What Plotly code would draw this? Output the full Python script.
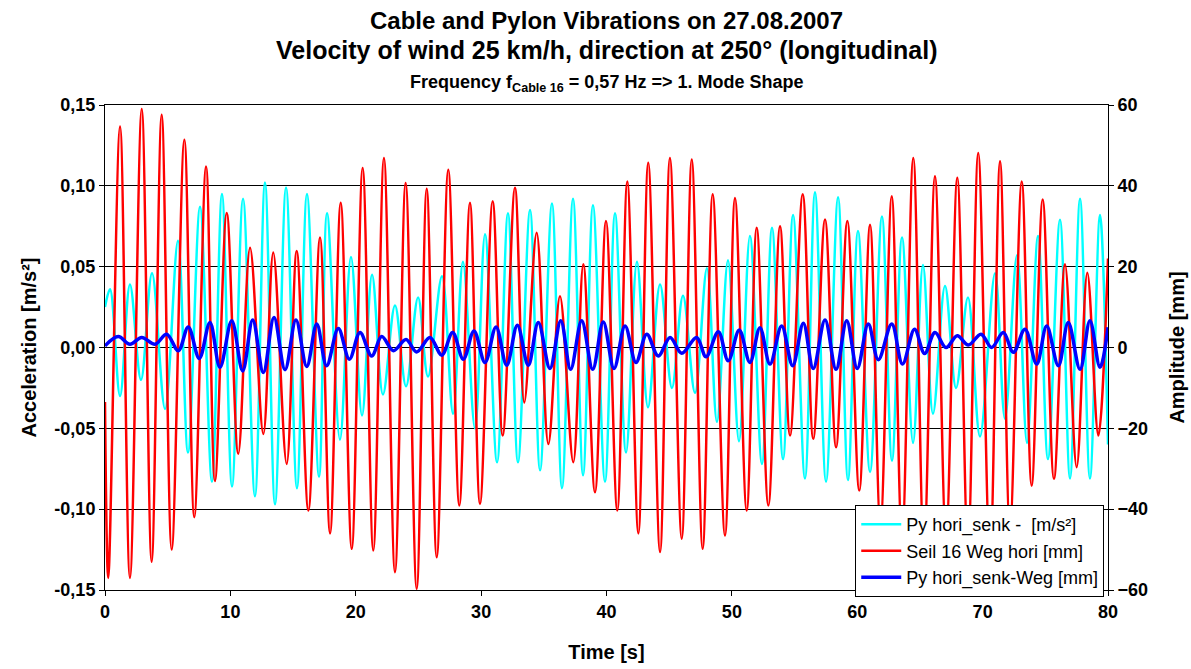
import plotly.graph_objects as go

# ---- data ----
# Py hori_senk - [m/s²]  (left axis): times of extrema [s] and values [m/s²]
cyan_t = [0.00, 0.40, 1.20, 1.99, 2.87, 3.75, 4.79, 5.82, 6.62, 7.58, 8.53, 9.33, 10.13, 11.01,
          11.96, 12.76, 13.56, 14.44, 15.31, 16.11, 17.07, 17.71, 18.74, 19.62, 20.50, 21.30,
          22.17, 23.13, 24.01, 24.97, 25.76, 26.88, 27.76, 28.55, 29.51, 30.31, 31.27, 32.14,
          32.94, 33.90, 34.70, 35.65, 36.45, 37.33, 38.13, 38.92, 39.88, 40.68, 41.56, 42.43,
          43.31, 44.27, 45.22, 46.10, 47.06, 48.01, 48.81, 49.69, 50.57, 51.44, 52.40, 53.20,
          54.08, 54.88, 55.83, 56.63, 57.51, 58.47, 59.26, 60.06, 61.02, 61.97, 62.77, 63.57,
          64.45, 65.24, 66.04, 67.00, 67.88, 68.83, 69.79, 70.99, 71.78, 72.74, 73.54, 74.42,
          75.21, 76.17, 76.97, 77.77, 78.56, 79.36, 80.00]
cyan_v = [0.025, 0.036, -0.030, 0.039, -0.020, 0.046, -0.038, 0.066, -0.065, 0.087, -0.083, 0.095,
          -0.086, 0.092, -0.092, 0.102, -0.097, 0.099, -0.087, 0.095, -0.080, 0.083, -0.057, 0.056,
          -0.042, 0.045, -0.029, 0.026, -0.024, 0.031, -0.018, 0.044, -0.041, 0.053, -0.050, 0.070,
          -0.071, 0.083, -0.071, 0.085, -0.076, 0.089, -0.087, 0.092, -0.079, 0.088, -0.083, 0.083,
          -0.065, 0.053, -0.037, 0.039, -0.025, 0.032, -0.028, 0.049, -0.046, 0.054, -0.058, 0.069,
          -0.072, 0.074, -0.069, 0.082, -0.081, 0.096, -0.083, 0.093, -0.082, 0.072, -0.077, 0.081,
          -0.070, 0.068, -0.059, 0.051, -0.041, 0.038, -0.025, 0.031, -0.055, 0.046, -0.044, 0.057,
          -0.059, 0.069, -0.069, 0.079, -0.081, 0.092, -0.081, 0.082, -0.060]

# Seil 16 Weg hori [mm]  (right axis)
red_t = [0.00, 0.26, 1.20, 1.99, 2.93, 3.72, 4.52, 5.32, 6.33, 7.12, 8.06, 8.77, 9.71, 10.63,
         11.57, 12.63, 13.42, 14.49, 15.29, 16.22, 17.15, 17.95, 18.80, 19.68, 20.55, 21.40,
         22.25, 23.13, 23.98, 24.86, 25.66, 26.46, 27.38, 28.26, 29.11, 29.91, 30.92, 31.72,
         32.70, 33.44, 34.43, 35.36, 36.29, 37.35, 38.15, 39.08, 39.96, 40.86, 41.66, 42.54,
         43.33, 44.27, 45.06, 46.00, 46.80, 47.67, 48.47, 49.45, 50.25, 51.18, 51.98, 52.91,
         53.84, 54.64, 55.65, 56.49, 57.43, 58.31, 59.21, 60.16, 61.02, 61.85, 62.75, 63.57,
         64.47, 65.32, 66.20, 67.08, 67.98, 68.83, 69.65, 70.59, 71.39, 72.18, 73.12, 73.91,
         74.79, 75.69, 76.57, 77.50, 78.35, 79.23, 80.00]
red_v = [-13.5, -57.0, 54.7, -57.0, 59.0, -53.0, 57.6, -50.0, 51.4, -42.0, 44.8, -33.0, 33.3, -26.3,
         24.7, -21.4, 23.5, -28.8, 23.9, -40.3, 27.2, -46.0, 35.8, -49.8, 44.4, -50.2, 46.9, -55.6,
         40.7, -59.7, 39.3, -51.9, 44.0, -39.1, 35.8, -38.7, 36.2, -21.8, 39.5, -13.6, 28.4, -23.9,
         12.7, -28.4, 20.6, -35.8, 31.3, -40.3, 41.1, -46.0, 45.7, -50.6, 46.9, -47.3, 46.5, -49.8,
         37.9, -46.5, 37.0, -40.3, 29.6, -39.1, 30.0, -21.8, 37.9, -22.6, 31.7, -24.7, 31.3, -35.4,
         30.4, -44.0, 37.4, -48.0, 46.9, -50.0, 42.4, -47.0, 42.0, -50.0, 48.1, -52.0, 46.1, -45.0,
         41.1, -34.2, 36.6, -32.5, 20.6, -29.6, 18.5, -21.8, 22.0]

# Py hori_senk-Weg [mm]  (right axis)
blue_t = [0.00, 1.06, 1.99, 2.93, 3.99, 4.92, 5.85, 6.64, 7.52, 8.37, 9.17, 10.11, 10.98, 11.78,
          12.63, 13.48, 14.36, 15.23, 16.09, 16.89, 17.68, 18.61, 19.49, 20.34, 21.27, 22.07,
          23.00, 24.01, 24.86, 25.92, 26.86, 27.73, 28.58, 29.43, 30.31, 31.19, 32.04, 32.89,
          33.76, 34.56, 35.49, 36.35, 37.14, 38.02, 38.90, 39.74, 40.60, 41.48, 42.35, 43.21,
          44.13, 45.07, 46.00, 47.19, 47.94, 48.92, 49.71, 50.59, 51.44, 52.24, 53.04, 53.97,
          54.85, 55.70, 56.49, 57.43, 58.31, 59.16, 60.00, 60.88, 61.68, 62.75, 63.61, 64.57,
          65.37, 66.20, 67.08, 67.98, 68.86, 69.87, 70.72, 71.65, 72.45, 73.38, 74.31, 75.11,
          76.04, 76.83, 77.77, 78.56, 79.36, 80.00]
blue_v = [0.4, 2.7, 0.8, 2.5, 0.8, 3.3, -0.8, 5.1, -2.7, 6.2, -4.9, 6.6, -5.8, 6.8,
          -6.2, 7.4, -5.5, 6.8, -4.7, 5.8, -4.5, 4.7, -2.9, 3.7, -2.1, 2.7,
          -0.8, 2.0, -1.1, 2.5, -1.9, 3.7, -2.9, 4.1, -3.7, 5.1, -4.4, 5.5,
          -4.4, 6.2, -5.2, 6.6, -5.4, 6.6, -5.4, 6.3, -5.2, 5.3, -3.7, 3.3,
          -2.1, 2.5, -1.4, 2.5, -2.3, 3.9, -3.3, 4.3, -3.7, 4.9, -4.1, 5.3,
          -4.5, 6.0, -5.2, 6.8, -5.4, 6.6, -5.2, 5.8, -3.0, 5.8, -4.1, 4.5,
          -1.5, 3.7, 0.0, 2.9, 0.6, 3.3, 0.0, 3.7, -1.2, 4.5, -4.1, 5.3,
          -4.5, 6.2, -5.4, 6.6, -4.9, 5.0]

left_ticks = [-0.15, -0.10, -0.05, 0.0, 0.05, 0.10, 0.15]
left_ticktext = ["-0,15", "-0,10", "-0,05", "0,00", "0,05", "0,10", "0,15"]
right_ticks = [-60, -40, -20, 0, 20, 40, 60]
x_ticks = [0, 10, 20, 30, 40, 50, 60, 70, 80]

FONT = "Liberation Sans, Arial, sans-serif"

fig = go.Figure()
fig.add_trace(go.Scatter(x=cyan_t, y=cyan_v, mode="lines", name="Py hori_senk -  [m/s²]",
                         line=dict(color="#00FFFF", width=2.5, shape="spline", smoothing=1.0),
                         yaxis="y"))
fig.add_trace(go.Scatter(x=red_t, y=red_v, mode="lines", name="Seil 16 Weg hori [mm]",
                         line=dict(color="#FF0000", width=2.5, shape="spline", smoothing=1.0),
                         yaxis="y2"))
fig.add_trace(go.Scatter(x=blue_t, y=blue_v, mode="lines", name="Py hori_senk-Weg [mm]",
                         line=dict(color="#0000FF", width=3.5, shape="spline", smoothing=1.0),
                         yaxis="y2"))

fig.update_layout(
    width=1191, height=669,
    margin=dict(l=105, r=83, t=105, b=79, autoexpand=False),
    paper_bgcolor="white", plot_bgcolor="white",
    font=dict(family=FONT, color="black"),
    showlegend=True,
    legend=dict(x=0.748, y=0.175, xanchor="left", yanchor="top",
                bgcolor="white", bordercolor="black", borderwidth=1,
                font=dict(family=FONT, size=18, color="black"),
                tracegroupgap=0, itemwidth=40),
    xaxis=dict(range=[0, 80], tickvals=x_ticks, ticks="outside", ticklen=5,
               tickcolor="black", showgrid=False, zeroline=False, automargin=False,
               showline=True, linecolor="black", linewidth=1, mirror=True,
               tickfont=dict(family=FONT, size=18, color="black", weight="bold"),
               title=dict(text="<b>Time [s]</b>", font=dict(family=FONT, size=20), standoff=24)),
    yaxis=dict(range=[-0.15, 0.15], tickvals=left_ticks, ticktext=left_ticktext,
               ticks="outside", ticklen=5, tickcolor="black", automargin=False,
               showgrid=True, gridcolor="black", gridwidth=1, zeroline=False,
               showline=True, linecolor="black", linewidth=1, mirror=True,
               tickfont=dict(family=FONT, size=18, color="black", weight="bold"),
               title=dict(text="<b>Acceleration [m/s²]</b>", font=dict(family=FONT, size=20),
                          standoff=12)),
    yaxis2=dict(range=[-60, 60], tickvals=right_ticks, overlaying="y", side="right",
                ticks="outside", ticklen=5, tickcolor="black", automargin=False,
                showgrid=False, zeroline=False, showline=False,
                tickfont=dict(family=FONT, size=18, color="black", weight="bold"),
                title=dict(text="<b>Amplitude [mm]</b>", font=dict(family=FONT, size=20),
                           standoff=22)),
    annotations=[
        dict(text="<b>Cable and Pylon Vibrations on 27.08.2007</b>", xref="paper", yref="paper",
             x=0.5, y=1, yshift=85, xanchor="center", yanchor="middle", showarrow=False,
             font=dict(family=FONT, size=24, color="black")),
        dict(text="<b>Velocity of wind 25 km/h, direction at 250° (longitudinal)</b>",
             xref="paper", yref="paper", x=0.5, y=1, yshift=55, xanchor="center",
             yanchor="middle", showarrow=False, font=dict(family=FONT, size=25, color="black")),
        dict(text="<b>Frequency f<sub>Cable 16</sub> = 0,57 Hz =&gt; 1. Mode Shape</b>",
             xref="paper", yref="paper", x=0.5, y=1, yshift=22, xanchor="center",
             yanchor="middle", showarrow=False, font=dict(family=FONT, size=18, color="black")),
    ],
)

fig.write_html("out.html", config={"displayModeBar": False},
               post_script="document.body.style.margin='0';document.body.style.overflow='hidden';")
